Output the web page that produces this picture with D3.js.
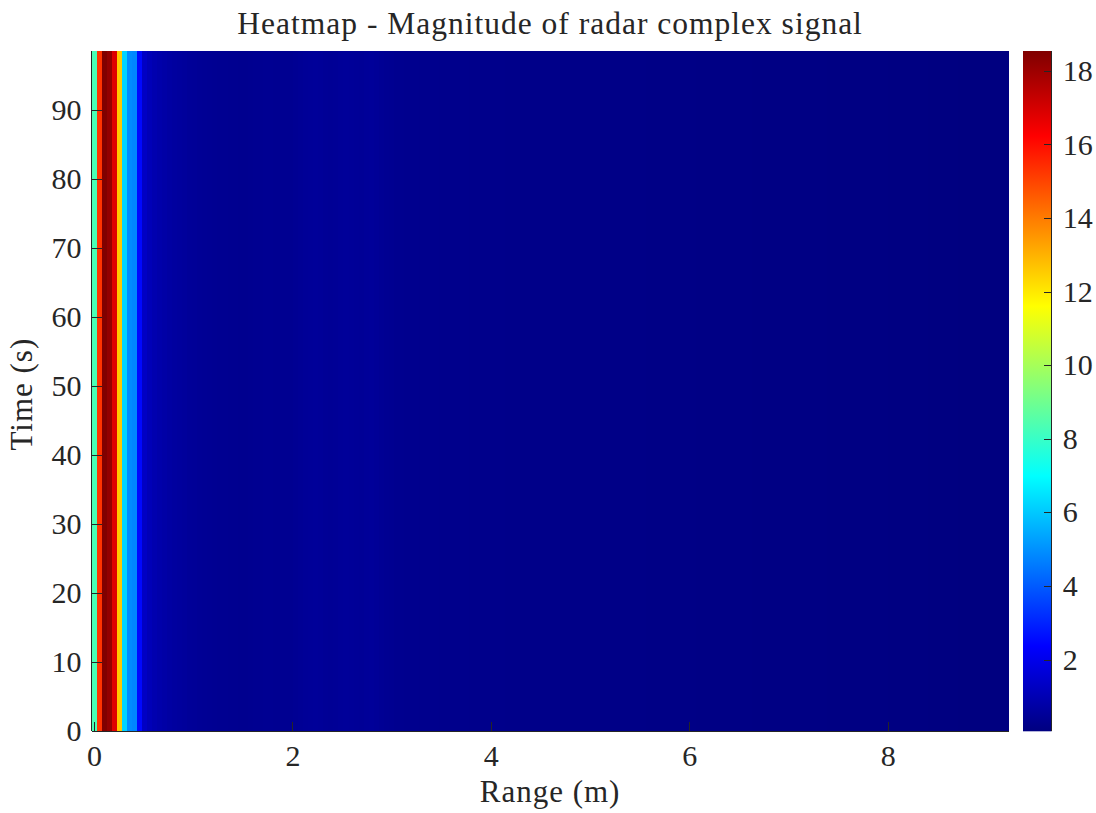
<!DOCTYPE html>
<html lang="en">
    <head>
        <meta charset="utf-8">
        <title>Heatmap - Magnitude of radar complex signal</title>
        <script type="text/javascript" src="https://cdn.jsdelivr.net/npm/d3@7"></script>
        <style type="text/css">
            body { margin: 0; background: #fff; }
            text { font-family: "Liberation Serif", "Times New Roman", "DejaVu Serif", serif; fill: #262626; }
            .axis path, .axis line { stroke: #262626; shape-rendering: crispEdges; }
        </style>
    </head>
    <body>
        <script type="text/javascript">
            // range bin spacing (m) and time extent (s)
            var rangeStep = 0.0508;
            var timeMax = 98.6;

            // magnitude per range bin (the signal is nearly constant over time)
            var magnitude = [
                8.3, 15.3, 18.54, 18.2, 16.8, 12.6, 6.2, 4.9, 4.8, 2.5,
                1.3, 1.05, 0.92, 0.82, 0.74, 0.68, 0.62, 0.58, 0.54, 0.5,
                0.47, 0.44, 0.42, 0.4, 0.38, 0.37, 0.36, 0.35, 0.35, 0.34,
                0.34, 0.35, 0.36, 0.37, 0.38, 0.38, 0.37, 0.36, 0.36, 0.37,
                0.4, 0.44, 0.48, 0.5, 0.52, 0.5, 0.46, 0.44, 0.45, 0.5,
                0.52, 0.5, 0.47, 0.45, 0.5, 0.52, 0.48, 0.42, 0.38, 0.36,
                0.34, 0.33, 0.32, 0.32, 0.31, 0.3, 0.3, 0.29, 0.29, 0.28,
                0.28, 0.28, 0.27, 0.27, 0.27, 0.26, 0.26, 0.26, 0.25, 0.25,
                0.25, 0.25, 0.24, 0.24, 0.24, 0.23, 0.23, 0.23, 0.23, 0.22,
                0.22, 0.22, 0.22, 0.21, 0.21, 0.21, 0.21, 0.2, 0.2, 0.2,
                0.2, 0.19, 0.19, 0.19, 0.19, 0.18, 0.18, 0.18, 0.18, 0.18,
                0.17, 0.17, 0.17, 0.17, 0.17, 0.16, 0.16, 0.16, 0.16, 0.16,
                0.15, 0.15, 0.15, 0.15, 0.15, 0.15, 0.15, 0.15, 0.15, 0.15,
                0.15, 0.14, 0.14, 0.14, 0.14, 0.14, 0.14, 0.14, 0.14, 0.13,
                0.13, 0.13, 0.13, 0.13, 0.13, 0.13, 0.12, 0.12, 0.12, 0.12,
                0.12, 0.12, 0.11, 0.11, 0.11, 0.11, 0.11, 0.11, 0.1, 0.1,
                0.1, 0.1, 0.1, 0.09, 0.09, 0.09, 0.08, 0.08, 0.08, 0.07,
                0.07, 0.07, 0.06, 0.06, 0.06, 0.06, 0.05, 0.05, 0.05, 0.05,
                0.05, 0.05
            ];

            var xTicks = [0, 2, 4, 6, 8];
            var yTicks = [0, 10, 20, 30, 40, 50, 60, 70, 80, 90];
            var cTicks = [2, 4, 6, 8, 10, 12, 14, 16, 18];

            var W = 1096, H = 813;
            var plot = {left: 91.5, right: 1008.7, top: 51, bottom: 731.3};
            var cbar = {left: 1023, right: 1051.7};

            // MATLAB style jet colormap
            function jet(t) {
                t = Math.max(0, Math.min(1, t));
                function c(v) { return Math.round(255 * Math.max(0, Math.min(1, v))); }
                return "rgb(" + c(1.5 - Math.abs(4 * t - 3)) + "," + c(1.5 - Math.abs(4 * t - 2)) + "," + c(1.5 - Math.abs(4 * t - 1)) + ")";
            }

            var n = magnitude.length;
            var x = d3.scaleLinear()
                .domain([-rangeStep / 2, (n - 0.5) * rangeStep])
                .range([plot.left, plot.right]);
            var y = d3.scaleLinear()
                .domain([0, timeMax])
                .range([plot.bottom, plot.top]);
            var cExtent = d3.extent(magnitude);
            var cNorm = d3.scaleLinear().domain(cExtent).range([0, 1]);
            var color = function(v) { return jet(cNorm(v)); };
            var cy = d3.scaleLinear().domain(cExtent).range([plot.bottom, plot.top]);

            var svg = d3.select("body").append("svg")
                .attr("width", W)
                .attr("height", H);

            // heatmap columns
            svg.append("g")
                .selectAll("rect")
                .data(magnitude)
                .enter().append("rect")
                    .attr("x", function(d, i) { return x((i - 0.5) * rangeStep); })
                    .attr("width", function(d, i) { return x((i + 0.5) * rangeStep) - x((i - 0.5) * rangeStep) + 0.6; })
                    .attr("y", y(timeMax))
                    .attr("height", y(0) - y(timeMax))
                    .attr("fill", function(d) { return color(d); })
                    .attr("shape-rendering", "crispEdges");

            // axes, ticks point inwards like matlab
            var xAxis = d3.axisBottom(x).tickValues(xTicks).tickSize(-9).tickPadding(13).tickFormat(d3.format("d"));
            var yAxis = d3.axisLeft(y).tickValues(yTicks).tickSize(-10).tickPadding(10).tickFormat(d3.format("d"));

            var gx = svg.append("g")
                .attr("class", "axis")
                .attr("transform", "translate(0," + plot.bottom + ")")
                .call(xAxis);
            gx.select(".domain").attr("d", "M" + plot.left + ",0H" + plot.right);
            gx.selectAll("text").style("font-size", "30px").attr("dy", "0.71em");

            var gy = svg.append("g")
                .attr("class", "axis")
                .attr("transform", "translate(" + plot.left + ",0)")
                .call(yAxis);
            gy.select(".domain").attr("d", "M0," + plot.bottom + "V" + plot.top);
            gy.selectAll("text").style("font-size", "30px");

            // colorbar
            var defs = svg.append("defs");
            var grad = defs.append("linearGradient")
                .attr("id", "jetgrad")
                .attr("x1", 0).attr("y1", 1).attr("x2", 0).attr("y2", 0);
            grad.selectAll("stop")
                .data(d3.range(0, 1.0001, 1 / 64))
                .enter().append("stop")
                    .attr("offset", function(d) { return d; })
                    .attr("stop-color", function(d) { return jet(d); });

            svg.append("rect")
                .attr("x", cbar.left)
                .attr("y", cy(cExtent[1]))
                .attr("width", cbar.right - cbar.left)
                .attr("height", cy(cExtent[0]) - cy(cExtent[1]))
                .attr("fill", "url(#jetgrad)");

            var cAxis = d3.axisRight(cy).tickValues(cTicks).tickSize(-8).tickPadding(11).tickFormat(d3.format("d"));
            var gc = svg.append("g")
                .attr("class", "axis")
                .attr("transform", "translate(" + cbar.right + ",0)")
                .call(cAxis);
            gc.select(".domain").attr("d", "M0," + cy(cExtent[0]) + "V" + cy(cExtent[1]));
            gc.selectAll("text").style("font-size", "30px");

            // labels
            svg.append("text")
                .attr("x", (plot.left + plot.right) / 2)
                .attr("y", 34)
                .attr("text-anchor", "middle")
                .style("font-size", "31.5px")
                .style("letter-spacing", "1px")
                .text("Heatmap - Magnitude of radar complex signal");

            svg.append("text")
                .attr("x", (plot.left + plot.right) / 2)
                .attr("y", 802)
                .attr("text-anchor", "middle")
                .style("font-size", "31px")
                .style("letter-spacing", "1px")
                .text("Range (m)");

            svg.append("text")
                .attr("transform", "translate(32," + ((plot.top + plot.bottom) / 2 + 3) + ") rotate(-90)")
                .attr("text-anchor", "middle")
                .style("font-size", "31px")
                .style("letter-spacing", "1px")
                .text("Time (s)");
        </script>
    </body>
</html>
